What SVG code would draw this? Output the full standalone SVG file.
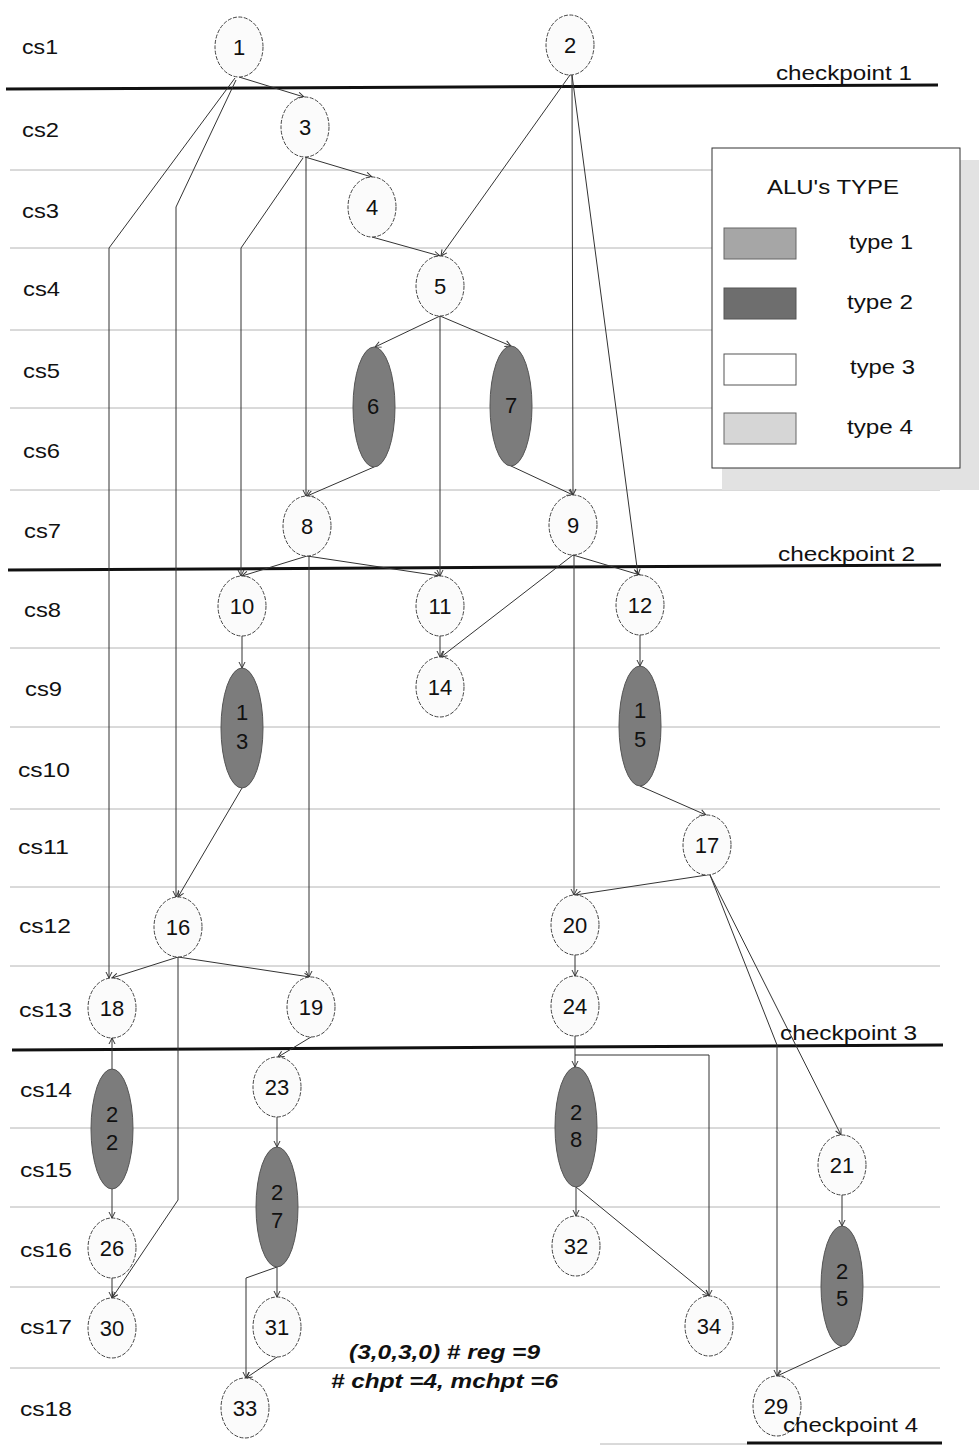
<svg xmlns="http://www.w3.org/2000/svg" width="979" height="1446" viewBox="0 0 979 1446">
<defs>
<marker id="arr" markerWidth="8" markerHeight="8" refX="7" refY="4" orient="auto" markerUnits="userSpaceOnUse">
<path d="M1,1 L7,4 L1,7" fill="none" stroke="#333" stroke-width="1"/>
</marker>
</defs>
<style>
text{font-family:"Liberation Sans",Arial,sans-serif;fill:#111;}
.row{font-size:21px;}
.lbl{font-size:22px;text-anchor:middle;}
.cp{font-size:20px;}
.leg{font-size:21px;}
.grid{stroke:#b4b4b4;stroke-width:1;}
.chk{stroke:#111;stroke-width:3;}
.n{fill:#fbfbfb;stroke:#444;stroke-width:1;stroke-dasharray:4,1.5;}
.d{fill:#7c7c7c;stroke:#555;stroke-width:1;}
.e{fill:none;stroke:#333;stroke-width:1;marker-end:url(#arr);}
.note{font-size:20px;font-weight:bold;font-style:italic;}
</style>
<rect width="979" height="1446" fill="#ffffff"/>
<g id="grid">
<line class="grid" x1="10" y1="170" x2="940" y2="170"/>
<line class="grid" x1="10" y1="248" x2="940" y2="248"/>
<line class="grid" x1="10" y1="330" x2="940" y2="330"/>
<line class="grid" x1="10" y1="408" x2="940" y2="408"/>
<line class="grid" x1="10" y1="490" x2="940" y2="490"/>
<line class="grid" x1="10" y1="648" x2="940" y2="648"/>
<line class="grid" x1="10" y1="727" x2="940" y2="727"/>
<line class="grid" x1="10" y1="809" x2="940" y2="809"/>
<line class="grid" x1="10" y1="887" x2="940" y2="887"/>
<line class="grid" x1="10" y1="966" x2="940" y2="966"/>
<line class="grid" x1="10" y1="1128" x2="940" y2="1128"/>
<line class="grid" x1="10" y1="1207" x2="940" y2="1207"/>
<line class="grid" x1="10" y1="1287" x2="940" y2="1287"/>
<line class="grid" x1="10" y1="1368" x2="940" y2="1368"/>
<line class="grid" x1="600" y1="1444" x2="747" y2="1444"/>
</g>
<g id="checkpoint-lines">
<line class="chk" x1="6" y1="89" x2="938" y2="85"/>
<line class="chk" x1="8" y1="570" x2="941" y2="565"/>
<line class="chk" x1="12" y1="1050" x2="943" y2="1045"/>
<line class="chk" x1="747" y1="1443" x2="942" y2="1443"/>
</g>
<g id="rows">
<text class="row" x="22" y="54" textLength="36" lengthAdjust="spacingAndGlyphs">cs1</text>
<text class="row" x="22" y="137" textLength="37" lengthAdjust="spacingAndGlyphs">cs2</text>
<text class="row" x="22" y="218" textLength="37" lengthAdjust="spacingAndGlyphs">cs3</text>
<text class="row" x="23" y="296" textLength="37" lengthAdjust="spacingAndGlyphs">cs4</text>
<text class="row" x="23" y="378" textLength="37" lengthAdjust="spacingAndGlyphs">cs5</text>
<text class="row" x="23" y="458" textLength="37" lengthAdjust="spacingAndGlyphs">cs6</text>
<text class="row" x="24" y="538" textLength="37" lengthAdjust="spacingAndGlyphs">cs7</text>
<text class="row" x="24" y="617" textLength="37" lengthAdjust="spacingAndGlyphs">cs8</text>
<text class="row" x="25" y="696" textLength="37" lengthAdjust="spacingAndGlyphs">cs9</text>
<text class="row" x="18" y="777" textLength="52" lengthAdjust="spacingAndGlyphs">cs10</text>
<text class="row" x="18" y="854" textLength="51" lengthAdjust="spacingAndGlyphs">cs11</text>
<text class="row" x="19" y="933" textLength="52" lengthAdjust="spacingAndGlyphs">cs12</text>
<text class="row" x="19" y="1017" textLength="53" lengthAdjust="spacingAndGlyphs">cs13</text>
<text class="row" x="20" y="1097" textLength="52" lengthAdjust="spacingAndGlyphs">cs14</text>
<text class="row" x="20" y="1177" textLength="52" lengthAdjust="spacingAndGlyphs">cs15</text>
<text class="row" x="20" y="1257" textLength="52" lengthAdjust="spacingAndGlyphs">cs16</text>
<text class="row" x="20" y="1334" textLength="52" lengthAdjust="spacingAndGlyphs">cs17</text>
<text class="row" x="20" y="1416" textLength="52" lengthAdjust="spacingAndGlyphs">cs18</text>
</g>
<g id="connectors">
<polyline class="e" points="239,77 304,97"/>
<polyline class="e" points="235,78 109,248 109,978"/>
<polyline class="e" points="236,80 176,207 176,897"/>
<polyline class="e" points="305,157 372,177"/>
<polyline class="e" points="303,158 241,248 241,576"/>
<polyline class="e" points="306,157 306,496"/>
<polyline class="e" points="372,237 440,256"/>
<polyline class="e" points="570,75 441,256"/>
<polyline class="e" points="572,75 573,495"/>
<polyline class="e" points="572,75 638,575"/>
<polyline class="e" points="440,316 375,347"/>
<polyline class="e" points="440,316 511,346"/>
<polyline class="e" points="440,316 440,576"/>
<polyline class="e" points="374,467 307,496"/>
<polyline class="e" points="511,466 573,495"/>
<polyline class="e" points="307,556 242,576"/>
<polyline class="e" points="307,556 440,576"/>
<polyline class="e" points="309,556 309,977"/>
<polyline class="e" points="573,555 640,575"/>
<polyline class="e" points="573,555 441,657"/>
<polyline class="e" points="574,555 574,895"/>
<polyline class="e" points="440,636 440,657"/>
<polyline class="e" points="242,636 242,668"/>
<polyline class="e" points="640,635 640,666"/>
<polyline class="e" points="242,788 178,897"/>
<polyline class="e" points="640,786 706,815"/>
<polyline class="e" points="707,875 575,895"/>
<polyline class="e" points="710,875 841,1135"/>
<polyline class="e" points="710,875 777,1045 777,1376"/>
<polyline class="e" points="178,957 112,978"/>
<polyline class="e" points="178,957 310,977"/>
<polyline class="e" points="178,957 178,1200 112,1298"/>
<polyline class="e" points="575,955 575,976"/>
<polyline class="e" points="575,1036 575,1067"/>
<polyline class="e" points="575,1055 709,1055 709,1296"/>
<polyline class="e" points="112,1069 112,1038"/>
<polyline class="e" points="311,1037 278,1057"/>
<polyline class="e" points="277,1117 277,1147"/>
<polyline class="e" points="112,1189 112,1218"/>
<polyline class="e" points="112,1278 112,1298"/>
<polyline class="e" points="576,1187 576,1216"/>
<polyline class="e" points="576,1187 709,1296"/>
<polyline class="e" points="277,1267 277,1297"/>
<polyline class="e" points="277,1267 246,1278 246,1378"/>
<polyline class="e" points="277,1357 246,1378"/>
<polyline class="e" points="842,1195 842,1226"/>
<polyline class="e" points="842,1346 777,1376"/>
</g>
<g id="n1"><ellipse class="n" cx="239" cy="47" rx="24" ry="30"/><text class="lbl" x="239" y="55">1</text></g>
<g id="n2"><ellipse class="n" cx="570" cy="45" rx="24" ry="30"/><text class="lbl" x="570" y="53">2</text></g>
<g id="n3"><ellipse class="n" cx="305" cy="127" rx="24" ry="30"/><text class="lbl" x="305" y="135">3</text></g>
<g id="n4"><ellipse class="n" cx="372" cy="207" rx="24" ry="30"/><text class="lbl" x="372" y="215">4</text></g>
<g id="n5"><ellipse class="n" cx="440" cy="286" rx="24" ry="30"/><text class="lbl" x="440" y="294">5</text></g>
<g id="n6"><ellipse class="d" cx="374" cy="407" rx="21" ry="60"/><text class="lbl" x="373" y="414">6</text></g>
<g id="n7"><ellipse class="d" cx="511" cy="406" rx="21" ry="60"/><text class="lbl" x="511" y="413">7</text></g>
<g id="n8"><ellipse class="n" cx="307" cy="526" rx="24" ry="30"/><text class="lbl" x="307" y="534">8</text></g>
<g id="n9"><ellipse class="n" cx="573" cy="525" rx="24" ry="30"/><text class="lbl" x="573" y="533">9</text></g>
<g id="n10"><ellipse class="n" cx="242" cy="606" rx="24" ry="30"/><text class="lbl" x="242" y="614">10</text></g>
<g id="n11"><ellipse class="n" cx="440" cy="606" rx="24" ry="30"/><text class="lbl" x="440" y="614">11</text></g>
<g id="n12"><ellipse class="n" cx="640" cy="605" rx="24" ry="30"/><text class="lbl" x="640" y="613">12</text></g>
<g id="n14"><ellipse class="n" cx="440" cy="687" rx="24" ry="30"/><text class="lbl" x="440" y="695">14</text></g>
<g id="n13"><ellipse class="d" cx="242" cy="728" rx="21" ry="60"/><text class="lbl" x="242" y="720">1</text><text class="lbl" x="242" y="749">3</text></g>
<g id="n15"><ellipse class="d" cx="640" cy="726" rx="21" ry="60"/><text class="lbl" x="640" y="718">1</text><text class="lbl" x="640" y="747">5</text></g>
<g id="n17"><ellipse class="n" cx="707" cy="845" rx="24" ry="30"/><text class="lbl" x="707" y="853">17</text></g>
<g id="n16"><ellipse class="n" cx="178" cy="927" rx="24" ry="30"/><text class="lbl" x="178" y="935">16</text></g>
<g id="n20"><ellipse class="n" cx="575" cy="925" rx="24" ry="30"/><text class="lbl" x="575" y="933">20</text></g>
<g id="n18"><ellipse class="n" cx="112" cy="1008" rx="24" ry="30"/><text class="lbl" x="112" y="1016">18</text></g>
<g id="n19"><ellipse class="n" cx="311" cy="1007" rx="24" ry="30"/><text class="lbl" x="311" y="1015">19</text></g>
<g id="n24"><ellipse class="n" cx="575" cy="1006" rx="24" ry="30"/><text class="lbl" x="575" y="1014">24</text></g>
<g id="n22"><ellipse class="d" cx="112" cy="1129" rx="21" ry="60"/><text class="lbl" x="112" y="1122">2</text><text class="lbl" x="112" y="1150">2</text></g>
<g id="n23"><ellipse class="n" cx="277" cy="1087" rx="24" ry="30"/><text class="lbl" x="277" y="1095">23</text></g>
<g id="n28"><ellipse class="d" cx="576" cy="1127" rx="21" ry="60"/><text class="lbl" x="576" y="1120">2</text><text class="lbl" x="576" y="1147">8</text></g>
<g id="n21"><ellipse class="n" cx="842" cy="1165" rx="24" ry="30"/><text class="lbl" x="842" y="1173">21</text></g>
<g id="n27"><ellipse class="d" cx="277" cy="1207" rx="21" ry="60"/><text class="lbl" x="277" y="1200">2</text><text class="lbl" x="277" y="1228">7</text></g>
<g id="n26"><ellipse class="n" cx="112" cy="1248" rx="24" ry="30"/><text class="lbl" x="112" y="1256">26</text></g>
<g id="n32"><ellipse class="n" cx="576" cy="1246" rx="24" ry="30"/><text class="lbl" x="576" y="1254">32</text></g>
<g id="n25"><ellipse class="d" cx="842" cy="1286" rx="21" ry="60"/><text class="lbl" x="842" y="1279">2</text><text class="lbl" x="842" y="1306">5</text></g>
<g id="n30"><ellipse class="n" cx="112" cy="1328" rx="24" ry="30"/><text class="lbl" x="112" y="1336">30</text></g>
<g id="n31"><ellipse class="n" cx="277" cy="1327" rx="24" ry="30"/><text class="lbl" x="277" y="1335">31</text></g>
<g id="n34"><ellipse class="n" cx="709" cy="1326" rx="24" ry="30"/><text class="lbl" x="709" y="1334">34</text></g>
<g id="n33"><ellipse class="n" cx="245" cy="1408" rx="24" ry="30"/><text class="lbl" x="245" y="1416">33</text></g>
<g id="n29"><ellipse class="n" cx="777" cy="1406" rx="24" ry="30"/><text class="lbl" x="776" y="1414">29</text></g>
<g id="checkpoint-labels">
<text class="cp" x="776" y="80" textLength="136" lengthAdjust="spacingAndGlyphs">checkpoint 1</text>
<text class="cp" x="778" y="561" textLength="137" lengthAdjust="spacingAndGlyphs">checkpoint 2</text>
<text class="cp" x="780" y="1040" textLength="137" lengthAdjust="spacingAndGlyphs">checkpoint 3</text>
<text class="cp" x="783" y="1432" textLength="135" lengthAdjust="spacingAndGlyphs">checkpoint 4</text>
</g>
<g id="legend">
<rect x="722" y="160" width="257" height="330" fill="#e2e2e2"/>
<rect x="712" y="148" width="248" height="320" fill="#ffffff" stroke="#333" stroke-width="1"/>
<text class="leg" x="767" y="194" textLength="132" lengthAdjust="spacingAndGlyphs">ALU's TYPE</text>
<rect x="724" y="228" width="72" height="31" fill="#a6a6a6" stroke="#666"/>
<rect x="724" y="288" width="72" height="31" fill="#6e6e6e" stroke="#555"/>
<rect x="724" y="354" width="72" height="31" fill="#ffffff" stroke="#555"/>
<rect x="724" y="413" width="72" height="31" fill="#d6d6d6" stroke="#666"/>
<text class="leg" x="849" y="249" textLength="64" lengthAdjust="spacingAndGlyphs">type 1</text>
<text class="leg" x="847" y="309" textLength="66" lengthAdjust="spacingAndGlyphs">type 2</text>
<text class="leg" x="850" y="374" textLength="65" lengthAdjust="spacingAndGlyphs">type 3</text>
<text class="leg" x="847" y="434" textLength="66" lengthAdjust="spacingAndGlyphs">type 4</text>
</g>
<g id="note">
<text class="note" x="349" y="1359" textLength="191" lengthAdjust="spacingAndGlyphs">(3,0,3,0) # reg =9</text>
<text class="note" x="331" y="1388" textLength="227" lengthAdjust="spacingAndGlyphs"># chpt =4, mchpt =6</text>
</g>
</svg>
